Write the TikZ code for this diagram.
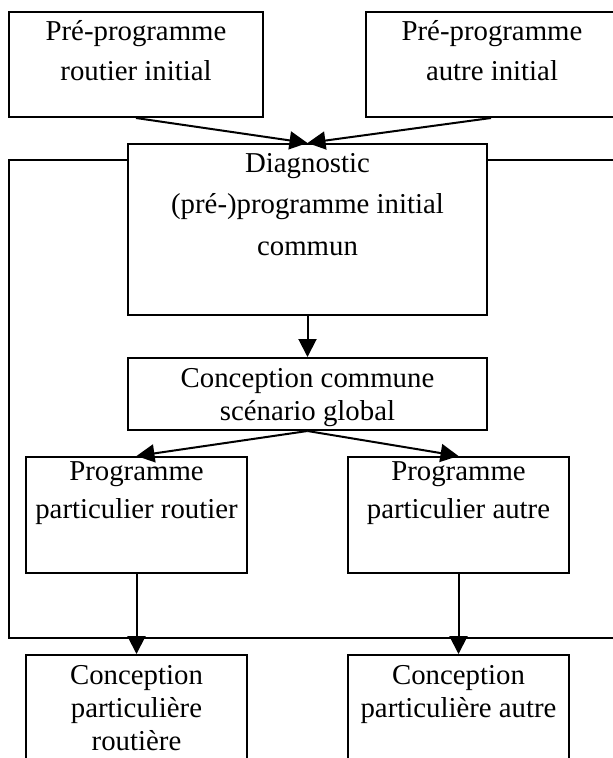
\documentclass[tikz,border=0pt]{standalone}
\usepackage{fontspec}
\setmainfont{Liberation Serif}
\usetikzlibrary{arrows.meta}
\begin{document}
\begin{tikzpicture}[x=1pt,y=-1pt,
  box/.style={draw, line width=2pt, fill=white, inner sep=0pt},
  txt/.style={align=center, inner sep=0pt, anchor=base},
  arr/.style={line width=2pt, -{Triangle[length=18pt,width=18pt]}}]
\useasboundingbox (0,0) rectangle (613,758);
\clip (0,0) rectangle (613,758);
% outer frame
\node[draw, line width=2pt, minimum width=616pt, minimum height=478pt, inner sep=0pt] (frame) at (317,399) {};
% boxes
\node[box, minimum width=254pt, minimum height=105pt] (tl) at (136,64.5) {};
\node[box, minimum width=250pt, minimum height=105pt] (tr) at (491,64.5) {};
\node[box, minimum width=359pt, minimum height=171pt] (diag) at (307.5,229.5) {};
\node[box, minimum width=359pt, minimum height=72pt] (cc) at (307.5,394) {};
\node[box, minimum width=221pt, minimum height=116pt] (pl) at (136.5,515) {};
\node[box, minimum width=221pt, minimum height=116pt] (pr) at (458.5,515) {};
\node[box, minimum width=221pt, minimum height=125pt] (bl) at (136.5,717.5) {};
\node[box, minimum width=221pt, minimum height=125pt] (br) at (458.5,717.5) {};
% texts (anchored at the baseline of their last line)
\node[txt, font=\fontsize{28.8}{40}\selectfont] (t1) at (136,80) {Pré-programme\\routier initial};
\node[txt, font=\fontsize{28.8}{40}\selectfont] (t2) at (492,80) {Pré-programme\\autre initial};
\node[txt, font=\fontsize{28.8}{41.5}\selectfont] (t3) at (307.5,255) {Diagnostic\\(pré-)programme initial\\commun};
\node[txt, font=\fontsize{28.8}{33}\selectfont] (t4) at (307.5,420) {Conception commune\\scénario global};
\node[txt, font=\fontsize{28.8}{38}\selectfont] (t5) at (136.5,518) {Programme\\particulier routier};
\node[txt, font=\fontsize{28.8}{38}\selectfont] (t6) at (458.5,518) {Programme\\particulier autre};
\node[txt, font=\fontsize{28.8}{33}\selectfont] (t7) at (136.5,750) {Conception\\particulière\\routière};
\node[txt, font=\fontsize{28.8}{33}\selectfont] (t8) at (458.5,717) {Conception\\particulière autre};
% connectors
\draw[arr] (tl.south) -- (diag.north);
\draw[arr] (tr.south) -- (diag.north);
\draw[arr] (diag.south) -- (cc.north);
\draw[arr] (cc.south) -- (pl.north);
\draw[arr] (cc.south) -- (pr.north);
\draw[arr] (pl.south) -- (bl.north);
\draw[arr] (pr.south) -- (br.north);
\end{tikzpicture}
\end{document}
